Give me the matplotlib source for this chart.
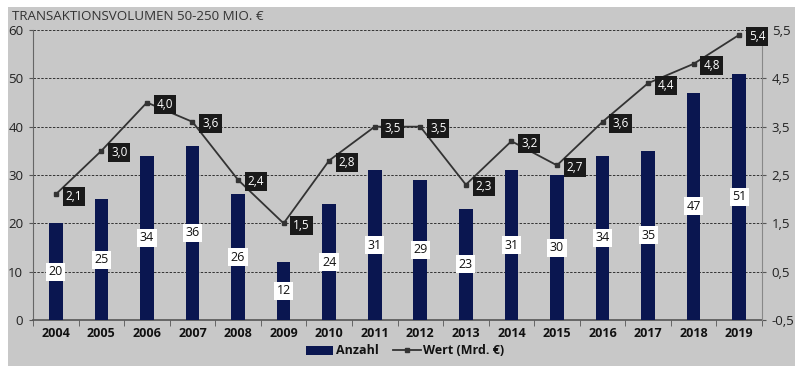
import matplotlib
matplotlib.use("Agg")
import matplotlib.pyplot as plt
from matplotlib.patches import Rectangle
import numpy as np

years = ["2004", "2005", "2006", "2007", "2008", "2009", "2010", "2011",
         "2012", "2013", "2014", "2015", "2016", "2017", "2018", "2019"]
anzahl = [20, 25, 34, 36, 26, 12, 24, 31, 29, 23, 31, 30, 34, 35, 47, 51]
wert = [2.1, 3.0, 4.0, 3.6, 2.4, 1.5, 2.8, 3.5, 3.5, 2.3, 3.2, 2.7, 3.6, 4.4, 4.8, 5.4]
left_ticks = [0, 10, 20, 30, 40, 50, 60]
right_ticks = [-0.5, 0.5, 1.5, 2.5, 3.5, 4.5, 5.5]
title = "TRANSAKTIONSVOLUMEN 50-250 MIO. €"

plt.rcParams['font.family'] = ['Open Sans', 'DejaVu Sans']

W, H = 800, 374
fig = plt.figure(figsize=(W / 100, H / 100), dpi=100)
fig.patch.set_facecolor("white")
bg = "#c8c8c8"
fig.add_artist(Rectangle((8 / W, 1 - 366 / H), 787 / W, 359 / H,
                         transform=fig.transFigure, facecolor=bg,
                         edgecolor="none", zorder=-10))

ax = fig.add_axes([33 / W, 1 - 320 / H, 729 / W, 290 / H])
ax.set_facecolor(bg)
x = np.arange(len(years))
ax.bar(x, anzahl, width=0.3, color="#0a1650", zorder=3, label="Anzahl")
ax.set_xlim(-0.5, len(years) - 0.5)
ax.set_ylim(0, 60)
ax.set_yticks(left_ticks)
ax.set_yticklabels([str(t) for t in left_ticks], fontsize=9.5, color="#222222")
ax.set_xticks(x)
ax.set_xticklabels(years, fontsize=9, fontweight="bold", color="#111111")
ax.set_xticks(np.arange(-0.5, len(years), 1), minor=True)
ax.tick_params(axis="x", which="major", length=0, pad=5)
ax.tick_params(axis="x", which="minor", length=4, color="#555555", direction="out")
ax.tick_params(axis="y", length=3, color="#555555", pad=4)
for t in left_ticks[1:]:
    ax.axhline(t, color="#333333", linestyle=(0, (2.5, 1.5)), linewidth=0.7, zorder=1)
ax.spines["top"].set_visible(False)
ax.spines["right"].set_visible(False)
ax.spines["left"].set_color("#666666")
ax.spines["bottom"].set_color("#555555")
ax.spines["bottom"].set_linewidth(1.2)

for xi, v in zip(x, anzahl):
    ax.text(xi, v / 2, str(v), ha="center", va="center", fontsize=9,
            color="#111111", zorder=5,
            bbox=dict(boxstyle="square,pad=0.2", facecolor="white", edgecolor="none"))

ax2 = ax.twinx()
ax2.set_ylim(-0.5, 5.5)
ax2.set_yticks(right_ticks)
ax2.set_yticklabels([f"{t:.1f}".replace(".", ",") for t in right_ticks],
                    fontsize=9.5, color="#222222")
ax2.tick_params(axis="y", length=3, color="#555555", pad=4)
for s in ["top", "left", "bottom"]:
    ax2.spines[s].set_visible(False)
ax2.spines["right"].set_color("#888888")
ax2.plot(x, wert, color="#333333", linewidth=1.3, marker="s", markersize=3.5,
         zorder=4, label="Wert (Mrd. €)")
for xi, v in zip(x, wert):
    ax2.annotate(f"{v:.1f}".replace(".", ","), (xi, v), xytext=(7, -1.5),
                 textcoords="offset points", ha="left", va="center",
                 fontsize=8.5, color="white", zorder=6,
                 bbox=dict(boxstyle="square,pad=0.25", facecolor="#1a1a1a",
                           edgecolor="none"))

fig.text(12 / W, 1 - 17 / H, title, fontsize=9.6, color="#333333",
         ha="left", va="center")

h1, l1 = ax.get_legend_handles_labels()
h2, l2 = ax2.get_legend_handles_labels()
leg = fig.legend(h1 + h2, l1 + l2, loc="center", bbox_to_anchor=(405 / W, 1 - 351 / H),
                 ncol=2, frameon=False, fontsize=9, handlelength=2.2,
                 columnspacing=1.2, handletextpad=0.2)
for t in leg.get_texts():
    t.set_fontweight("bold")
    t.set_color("#111111")

fig.savefig("out.png", dpi=100, facecolor=fig.get_facecolor())
